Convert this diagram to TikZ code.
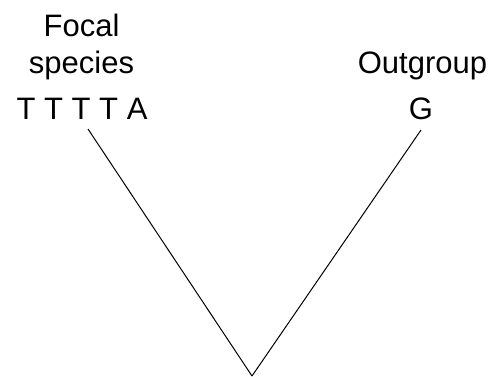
\documentclass[tikz,border=0pt]{standalone}
\usepackage{fontspec}
\setmainfont{Liberation Sans}
\usepackage{tikz}

\begin{document}
\begin{tikzpicture}[x=1pt,y=-1pt,
  lbl/.style={anchor=base,inner sep=0pt,font=\fontsize{31}{37}\selectfont}]
\useasboundingbox (0,0) rectangle (495,376);

\node[lbl] (focal) at (81.5,36) {Focal};
\node[lbl] (species) at (81.5,73) {species};
\node[lbl] (seqf) at (82,119) {T T T T A};

\node[lbl] (outgroup) at (422.5,73) {Outgroup};
\node[lbl] (seqo) at (421,119) {G};

\coordinate (ftip) at (88,129);
\coordinate (otip) at (421,130);
\coordinate (root) at (252,376);

\draw[line width=1pt] (ftip) -- (root);
\draw[line width=1pt] (otip) -- (root);
\end{tikzpicture}
\end{document}
